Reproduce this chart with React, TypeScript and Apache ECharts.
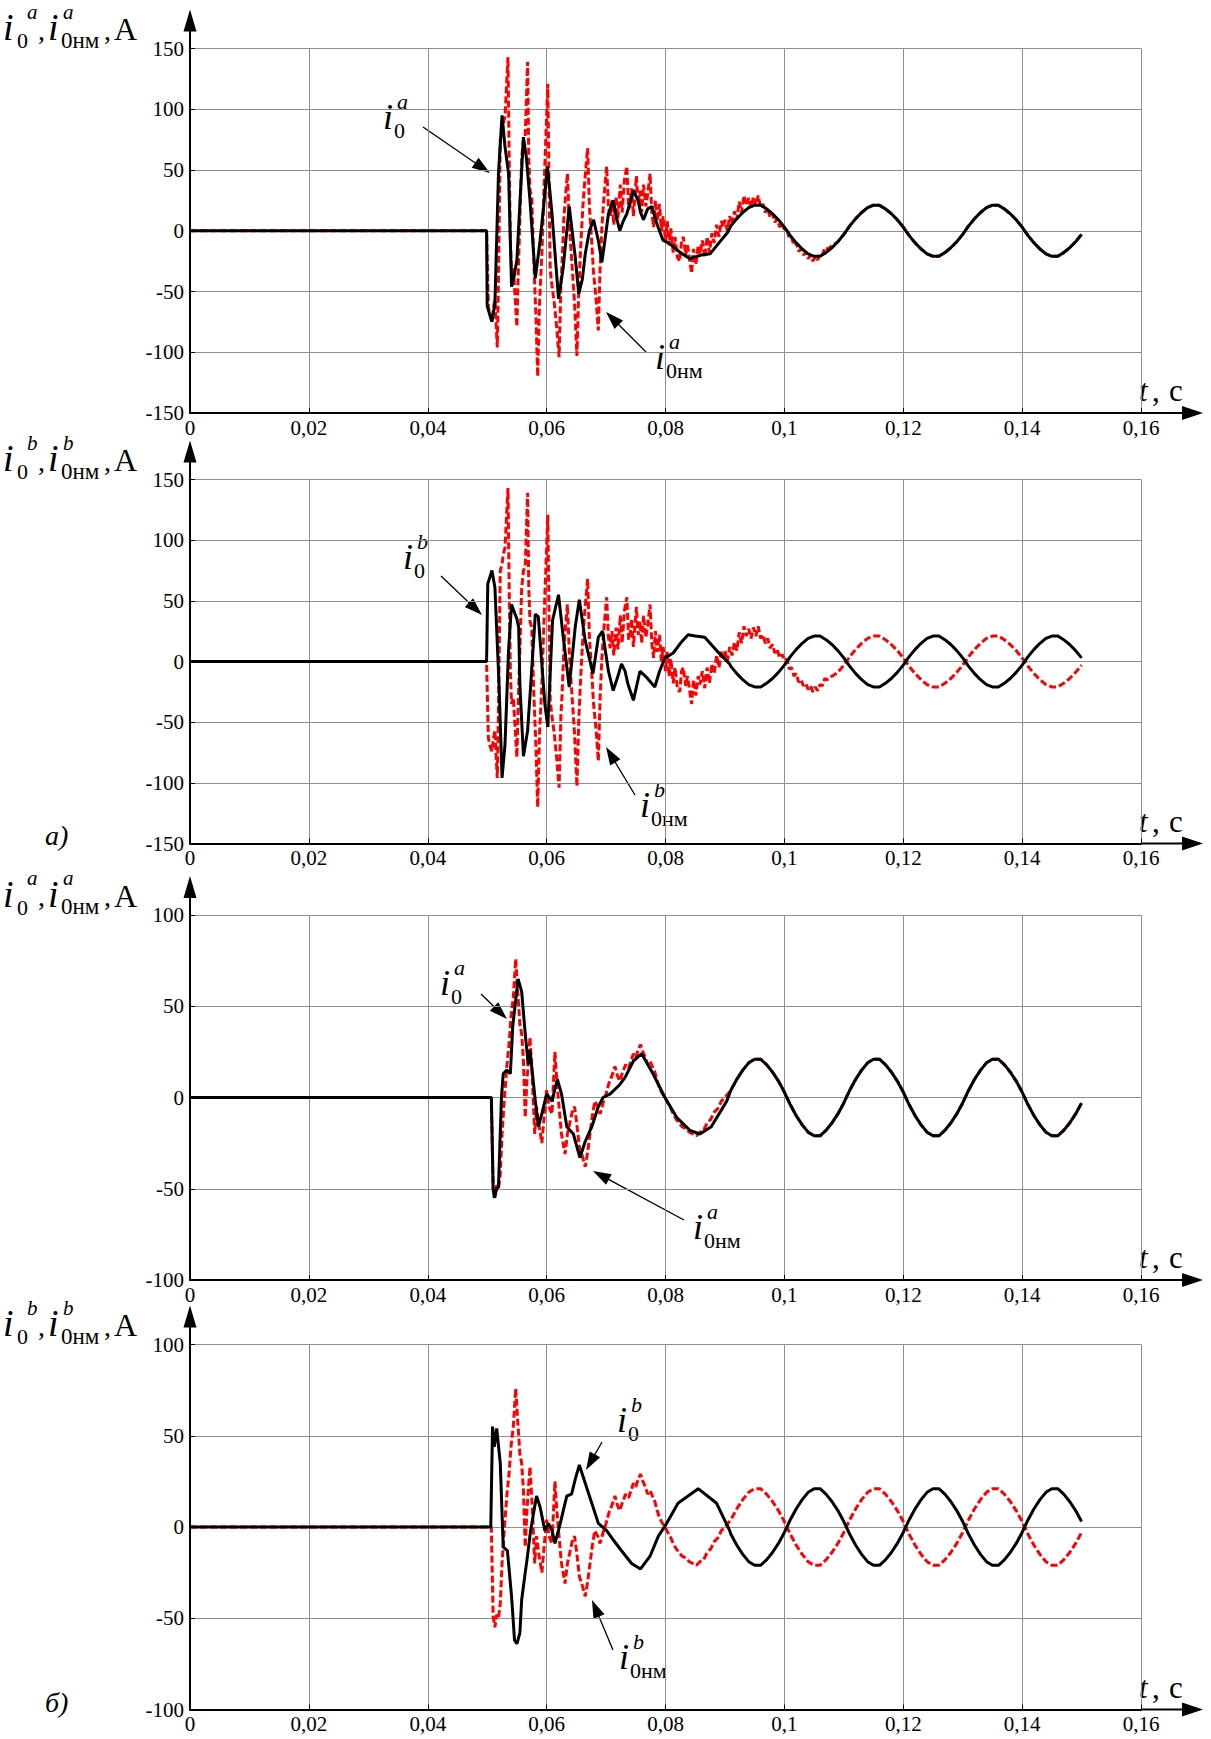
import React, { useEffect, useRef } from "react";
import * as echarts from "echarts";

// ---------------- data (time in s, current in A) ----------------
const T_MIN = 0;
const T_MAX = 0.16;
const T_STEP = 0.02;
const Y_RANGE_BIG = [-150, 150];
const Y_RANGE_SMALL = [-100, 100];
const Y_STEP = 50;

// steady-state part (read at 1 ms steps)
const steadyT = [
  0.080, 0.081, 0.082, 0.083, 0.084, 0.085, 0.086, 0.087, 0.088, 0.089,
  0.090, 0.091, 0.092, 0.093, 0.094, 0.095, 0.096, 0.097, 0.098, 0.099,
  0.100, 0.101, 0.102, 0.103, 0.104, 0.105, 0.106, 0.107, 0.108, 0.109,
  0.110, 0.111, 0.112, 0.113, 0.114, 0.115, 0.116, 0.117, 0.118, 0.119,
  0.120, 0.121, 0.122, 0.123, 0.124, 0.125, 0.126, 0.127, 0.128, 0.129,
  0.130, 0.131, 0.132, 0.133, 0.134, 0.135, 0.136, 0.137, 0.138, 0.139,
  0.140, 0.141, 0.142, 0.143, 0.144, 0.145, 0.146, 0.147, 0.148, 0.149,
  0.150,
];
const steadyA = [
  3, -4, -10, -15, -19, -21, -21, -18, -14, -9,
  -3, 4, 10, 15, 19, 21, 21, 18, 14, 9,
  3, -4, -10, -15, -19, -21, -21, -18, -14, -9,
  -3, 4, 10, 15, 19, 21, 21, 18, 14, 9,
  3, -4, -10, -15, -19, -21, -21, -18, -14, -9,
  -3, 4, 10, 15, 19, 21, 21, 18, 14, 9,
  3, -4, -10, -15, -19, -21, -21, -18, -14, -9,
  -3,
];
const steadyB = [
  -3, 4, 10, 15, 19, 21, 21, 18, 14, 9,
  3, -4, -10, -15, -19, -21, -21, -18, -14, -9,
  -3, 4, 10, 15, 19, 21, 21, 18, 14, 9,
  3, -4, -10, -15, -19, -21, -21, -18, -14, -9,
  -3, 4, 10, 15, 19, 21, 21, 18, 14, 9,
  3, -4, -10, -15, -19, -21, -21, -18, -14, -9,
  -3, 4, 10, 15, 19, 21, 21, 18, 14, 9,
  3,
];

// panel 1 (a): i0^a
const black1: [number, number][] = [
  [0, 0], [0.0499, 0], [0.05, -62], [0.0508, -75], [0.0513, -60], [0.0519, 47], [0.0525, 95],
  [0.053, 69], [0.0536, 47], [0.0541, -46], [0.0545, -38], [0.055, -24], [0.0555, 22], [0.0561, 77],
  [0.0566, 60], [0.0572, 25], [0.0581, -39], [0.0586, -20], [0.0589, -8], [0.0595, 20], [0.0601, 53],
  [0.0605, 35], [0.0609, 14], [0.062, -56], [0.0628, -30], [0.0638, 20], [0.0648, -21], [0.0654, -52],
  [0.066, -40], [0.0665, -19], [0.0672, 0], [0.0679, 9], [0.0687, -8], [0.0693, -26], [0.0698, -8],
  [0.0704, 14], [0.0712, 25], [0.0718, 10], [0.0723, 0], [0.0729, 8], [0.0735, 14], [0.0746, 33],
  [0.0754, 25], [0.0758, 15], [0.0763, 9], [0.077, 18], [0.0777, 20], [0.0786, 5], [0.0796, -8],
  [0.0805, -10], [0.0813, -13], [0.0825, -18], [0.0841, -23], [0.086, -20], [0.0875, -19],
  [0.089, -10], [0.0905, -1],
];
// panel 2 (a): i0^b
const black2: [number, number][] = [
  [0, 0], [0.0499, 0], [0.0501, 64], [0.0508, 75], [0.0513, 61], [0.052, -20], [0.0525, -96],
  [0.053, -68], [0.0536, 10], [0.0541, 47], [0.055, 35], [0.0553, 28], [0.0555, -19], [0.0561, -78],
  [0.0568, -57], [0.0573, -21], [0.0581, 39], [0.0586, 37], [0.0597, -35], [0.0602, -54], [0.061, 34],
  [0.062, 55], [0.0628, 20], [0.0638, -21], [0.0648, 28], [0.0655, 51], [0.0665, 17], [0.0678, -10],
  [0.0687, 20], [0.0694, 25], [0.0704, -8], [0.0712, -24], [0.072, -12], [0.0726, -2], [0.0732, -8],
  [0.0737, -19], [0.0746, -32], [0.0757, -8], [0.0768, -13], [0.0782, -21], [0.079, -8], [0.0799, 3],
  [0.0813, 7], [0.0825, 15], [0.0838, 22], [0.085, 21], [0.0866, 20], [0.0886, 9], [0.0908, -2],
];
// panels 1 & 2 (a): i0нм
const red12: [number, number][] = [
  [0, 0], [0.0499, 0], [0.0502, -63], [0.0505, -70], [0.0508, -74], [0.0511, -62], [0.0513, -57],
  [0.0517, -96], [0.0519, -40], [0.0522, 75], [0.0525, 80], [0.0527, 88], [0.053, 94], [0.0535, 143],
  [0.0537, 60], [0.0539, -8], [0.0541, -35], [0.0544, -30], [0.055, -79], [0.0552, -40], [0.0555, 10],
  [0.0558, 60], [0.0561, 75], [0.0564, 78], [0.0568, 139], [0.057, 60], [0.0572, 33], [0.0575, 28],
  [0.0578, -20], [0.0582, -70], [0.0585, -120], [0.0588, -60], [0.0592, -19], [0.0596, 40],
  [0.0602, 121], [0.0604, 40], [0.0606, -32], [0.0609, -45], [0.0613, -60], [0.0617, -80],
  [0.0621, -104], [0.0624, -45], [0.0626, -27], [0.0629, 10], [0.0632, 30], [0.0635, 47], [0.0638, 10],
  [0.064, -8], [0.0643, -30], [0.0647, -60], [0.0651, -103], [0.0654, -50], [0.0657, -16], [0.0661, 20],
  [0.0664, 40], [0.0669, 68], [0.0672, 20], [0.0676, -10], [0.0679, -35], [0.0683, -55], [0.0687, -82],
  [0.069, -30], [0.0693, 3], [0.0696, 25], [0.0701, 53], [0.0704, 20], [0.0707, 11], [0.071, 25],
  [0.0713, 5], [0.0717, 28], [0.072, 10], [0.0724, 38], [0.0727, 15], [0.0731, 42], [0.0735, 53],
  [0.0738, 18], [0.074, 20], [0.0743, 35], [0.0746, 12], [0.0751, 45], [0.0754, 22], [0.0757, 33],
  [0.076, 15], [0.0763, 38], [0.0767, 20], [0.077, 30], [0.0774, 47], [0.0777, 15], [0.078, 3],
  [0.0783, 25], [0.0786, 8], [0.079, 22], [0.0793, 0], [0.0796, 12], [0.08, -8], [0.0803, 8],
  [0.0806, -12], [0.0809, 2], [0.0813, -18], [0.0816, -5], [0.082, -22], [0.0824, -25], [0.0827, -8],
  [0.083, -5], [0.0834, -20], [0.0837, -12], [0.0844, -35], [0.0847, -15], [0.0851, -28], [0.0855, -12],
  [0.0858, -19], [0.0862, -8], [0.0866, -22], [0.087, -5], [0.0874, -18], [0.0878, -2], [0.0882, -10],
  [0.0886, 5], [0.089, -5], [0.0894, 8], [0.0897, 3], [0.09, 9], [0.0904, 0], [0.0908, 12],
  [0.0912, 5], [0.0916, 16], [0.092, 9], [0.0924, 24], [0.0928, 15], [0.0932, 29], [0.0936, 21],
  [0.094, 27], [0.0944, 19], [0.0948, 28], [0.0952, 21], [0.0956, 29], [0.096, 19], [0.0964, 22],
  [0.0968, 15], [0.0972, 19], [0.0976, 11], [0.098, 14], [0.0984, 7], [0.0988, 10], [0.0992, 3],
  [0.0996, 6], [0.1, 1], [0.1004, 2], [0.1008, -6], [0.1012, -5], [0.1016, -12], [0.102, -10],
  [0.1024, -17], [0.1028, -15], [0.1032, -20], [0.1036, -18], [0.104, -23], [0.1044, -20],
  [0.1048, -25], [0.1052, -21], [0.1056, -24], [0.106, -19], [0.1064, -20], [0.1068, -14],
  [0.1072, -15], [0.1076, -14], [0.108, -12], [0.1084, -11],
];
// panel 3 (б): i0^a
const black3: [number, number][] = [
  [0, 0], [0.0507, 0], [0.051, -50], [0.0512, -55], [0.0516, -50], [0.0519, -49], [0.0524, 0],
  [0.0527, 13], [0.0533, 15], [0.0539, 13], [0.0543, 39], [0.0552, 65], [0.0558, 58], [0.0564, 35],
  [0.0569, 18], [0.0572, 26], [0.0581, -2], [0.0586, -16], [0.0592, -9], [0.06, 2], [0.0609, -2],
  [0.0618, 10], [0.0625, 2], [0.0634, -16], [0.0645, -20], [0.0656, -33], [0.0665, -24],
  [0.0676, -16], [0.0687, -5], [0.0695, 0], [0.0707, 2], [0.0723, 7], [0.0732, 11], [0.0746, 20],
  [0.076, 24], [0.0779, 13], [0.0799, 0], [0.0819, -11], [0.0841, -18], [0.0858, -20], [0.0877, -16],
  [0.0903, -2],
];
// panel 4 (б): i0^b
const black4: [number, number][] = [
  [0, 0], [0.0506, 0], [0.0509, 55], [0.0512, 44], [0.0516, 54], [0.0522, 35], [0.0527, -11],
  [0.0534, -13], [0.0541, -38], [0.0546, -62], [0.055, -64], [0.0555, -58], [0.0558, -40],
  [0.0564, -25], [0.0567, -18], [0.0573, -2], [0.0583, 17], [0.0589, 11], [0.0597, -2], [0.0603, 2],
  [0.0609, -2], [0.0614, -9], [0.0623, 2], [0.0628, 9], [0.0634, 17], [0.0642, 18], [0.0648, 26],
  [0.0655, 34], [0.0665, 24], [0.0676, 13], [0.0687, 2], [0.0701, -2], [0.0712, -7], [0.0726, -13],
  [0.0743, -20], [0.0758, -23], [0.0774, -16], [0.0788, -5], [0.0802, 2], [0.0821, 13], [0.0855, 21],
  [0.0886, 13], [0.0908, -2],
];
// panels 3 & 4 (б): i0нм
const red34: [number, number][] = [
  [0, 0], [0.0507, 0], [0.051, -49], [0.0513, -55], [0.0516, -48], [0.0519, -50], [0.0522, -42],
  [0.0525, -20], [0.0528, -5], [0.0533, 17], [0.0537, 30], [0.054, 44], [0.0544, 55], [0.0548, 76],
  [0.0551, 60], [0.0555, 40], [0.0558, 35], [0.0561, 20], [0.0564, -11], [0.0567, 10], [0.0572, 33],
  [0.0576, 10], [0.058, -20], [0.0583, -5], [0.0587, -15], [0.0592, -25], [0.0596, -10], [0.06, 4],
  [0.0604, -5], [0.0609, -9], [0.0614, 25], [0.0617, 10], [0.062, -2], [0.0625, -20], [0.0631, -31],
  [0.0635, -20], [0.0639, -14], [0.0643, -8], [0.0647, -5], [0.0651, -15], [0.0655, -27], [0.066, -32],
  [0.0665, -38], [0.0669, -30], [0.0673, -20], [0.0677, -10], [0.0681, -2], [0.0686, -5], [0.069, -9],
  [0.0695, -3], [0.07, 2], [0.0705, 8], [0.071, 12], [0.0715, 17], [0.0719, 12], [0.0723, 9],
  [0.0728, 14], [0.0733, 18], [0.0738, 16], [0.0742, 20], [0.0746, 24], [0.075, 22], [0.0754, 26],
  [0.0758, 29], [0.0762, 25], [0.0766, 22], [0.077, 18], [0.0774, 20], [0.0778, 17], [0.0782, 14],
  [0.0786, 9], [0.079, 5], [0.0795, 2], [0.0799, 0], [0.0804, -3], [0.0809, -6], [0.0813, -9],
  [0.0818, -12], [0.0823, -14], [0.0828, -16], [0.0834, -17], [0.084, -19], [0.0846, -20],
  [0.0852, -21], [0.0858, -19], [0.0864, -18], [0.087, -14], [0.0876, -12], [0.0882, -8],
  [0.0888, -6], [0.0894, -2], [0.09, 0], [0.0905, 2],
];

function withSteady(trans: [number, number][], vals: number[]) {
  const last = trans[trans.length - 1][0];
  const out = trans.slice();
  steadyT.forEach((t, i) => {
    if (t > last + 1e-9) out.push([t, vals[i]]);
  });
  return out;
}

// ---------------- layout ----------------
const GRID_LEFT = 190;
const GRID_RIGHT_X = 1141;
const PANELS = [
  { top: 48.5, height: 364.5, range: Y_RANGE_BIG, sup: "a", black: withSteady(black1, steadyA), red: withSteady(red12, steadyA) },
  { top: 479.5, height: 364, range: Y_RANGE_BIG, sup: "b", black: withSteady(black2, steadyB), red: withSteady(red12, steadyA) },
  { top: 915, height: 365, range: Y_RANGE_SMALL, sup: "a", black: withSteady(black3, steadyA), red: withSteady(red34, steadyA) },
  { top: 1344.5, height: 365, range: Y_RANGE_SMALL, sup: "b", black: withSteady(black4, steadyB), red: withSteady(red34, steadyA) },
];

const FONT = "'Liberation Serif', 'Times New Roman', serif";

function txt(x: number, base: number, text: string, size: number, italic = false) {
  return {
    type: "text",
    x,
    y: base - 0.34 * size,
    silent: true,
    style: {
      text,
      fill: "#000",
      fontSize: size,
      fontFamily: FONT,
      fontStyle: italic ? "italic" : "normal",
      align: "left",
      verticalAlign: "middle",
    },
  };
}

function arrow(x1: number, y1: number, x2: number, y2: number, len = 18, hw = 6, lw = 1.3) {
  const dx = x2 - x1, dy = y2 - y1;
  const L = Math.hypot(dx, dy);
  const ux = dx / L, uy = dy / L;
  const bx = x2 - ux * len, by = y2 - uy * len;
  return [
    { type: "line", silent: true, shape: { x1, y1, x2: bx + ux * 2, y2: by + uy * 2 }, style: { stroke: "#000", lineWidth: lw } },
    {
      type: "polygon",
      silent: true,
      shape: { points: [[x2, y2], [bx - uy * hw, by + ux * hw], [bx + uy * hw, by - ux * hw]] },
      style: { fill: "#000" },
    },
  ];
}

// annotation label: i with super- and subscript
function ann(x: number, b: number, sup: string, sub: string) {
  return [txt(x, b, "i", 36, true), txt(x + 14, b - 20, sup, 22, true), txt(x + 11, b + 9, sub, 22)];
}

function title(b: number, sup: string) {
  return [
    txt(3, b, "i", 38, true),
    txt(27, b - 21, sup, 21, true),
    txt(17, b + 8, "0", 22),
    txt(38, b, ",", 28),
    txt(48, b, "i", 38, true),
    txt(63, b - 21, sup, 21, true),
    txt(61, b + 8, "0нм", 23),
    txt(104, b, ",", 28),
    txt(114, b, "A", 32),
  ];
}

const ANNOTATIONS = [
  { x: 383, b: 129, sup: "a", sub: "0", arrow: [423, 127, 490, 173] },
  { x: 655, b: 369, sup: "a", sub: "0нм", arrow: [646, 352, 606, 312] },
  { x: 403, b: 569, sup: "b", sub: "0", arrow: [441, 576, 482, 615] },
  { x: 640, b: 817, sup: "b", sub: "0нм", arrow: [635, 795, 606, 747] },
  { x: 440, b: 995, sup: "a", sub: "0", arrow: [481, 994, 507, 1019] },
  { x: 693, b: 1239, sup: "a", sub: "0нм", arrow: [684, 1220, 593, 1171] },
  { x: 617, b: 1432, sup: "b", sub: "0", arrow: [602, 1442, 586, 1470] },
  { x: 619, b: 1669, sup: "b", sub: "0нм", arrow: [613, 1650, 592, 1600] },
];

function fmtX(v: number) {
  const s = String(Number(v.toFixed(2)));
  return s.replace(".", ",");
}

function buildOption() {
  const grid: any[] = [];
  const xAxis: any[] = [];
  const yAxis: any[] = [];
  const series: any[] = [];
  const graphic: any[] = [];

  PANELS.forEach((p, i) => {
    grid.push({ left: GRID_LEFT, width: GRID_RIGHT_X - GRID_LEFT, top: p.top, height: p.height });
    xAxis.push({
      type: "value",
      gridIndex: i,
      min: T_MIN,
      max: T_MAX,
      interval: T_STEP,
      axisLine: { onZero: false, lineStyle: { color: "#000", width: 2 } },
      axisTick: { inside: true, length: 5, lineStyle: { color: "#000", width: 1 } },
      axisLabel: { formatter: fmtX, color: "#000", fontFamily: FONT, fontSize: 21, margin: 4 },
      splitLine: { show: true, lineStyle: { color: "#8f8f8f", width: 1 } },
    });
    yAxis.push({
      type: "value",
      gridIndex: i,
      min: p.range[0],
      max: p.range[1],
      interval: Y_STEP,
      axisLine: { onZero: false, lineStyle: { color: "#000", width: 2 } },
      axisTick: { inside: true, length: 5, lineStyle: { color: "#000", width: 1 } },
      axisLabel: { color: "#000", fontFamily: FONT, fontSize: 21, margin: 6 },
      splitLine: { show: true, lineStyle: { color: "#8f8f8f", width: 1 } },
    });
    series.push({
      type: "line",
      xAxisIndex: i,
      yAxisIndex: i,
      data: p.red,
      showSymbol: false,
      symbol: "none",
      lineStyle: { color: "#ff0000", width: 3, type: [7, 3] },
      z: 2,
    });
    series.push({
      type: "line",
      xAxisIndex: i,
      yAxisIndex: i,
      data: p.black,
      showSymbol: false,
      symbol: "none",
      lineStyle: { color: "#000", width: 3 },
      z: 3,
    });

    const bottom = p.top + p.height;
    // axis arrows
    graphic.push({ type: "line", silent: true, shape: { x1: GRID_LEFT, y1: p.top, x2: GRID_LEFT, y2: p.top - 22 }, style: { stroke: "#000", lineWidth: 2 } });
    graphic.push({
      type: "polygon",
      silent: true,
      shape: { points: [[GRID_LEFT, p.top - 39], [GRID_LEFT - 6.5, p.top - 17], [GRID_LEFT + 6.5, p.top - 17]] },
      style: { fill: "#000" },
    });
    graphic.push({ type: "line", silent: true, shape: { x1: GRID_RIGHT_X, y1: bottom, x2: 1184, y2: bottom }, style: { stroke: "#000", lineWidth: 2 } });
    graphic.push({
      type: "polygon",
      silent: true,
      shape: { points: [[1203, bottom], [1182, bottom - 7], [1182, bottom + 7]] },
      style: { fill: "#000" },
    });
    // titles
    graphic.push(...title(p.top - 8.5, p.sup));
    graphic.push(txt(1139, bottom - 11.5, "t", 31, true));
    graphic.push(txt(1152, bottom - 11.5, ",", 31));
    graphic.push(txt(1169, bottom - 11.5, "c", 31));
  });

  ANNOTATIONS.forEach((a) => {
    graphic.push(...ann(a.x, a.b, a.sup, a.sub));
    graphic.push(...arrow(a.arrow[0], a.arrow[1], a.arrow[2], a.arrow[3]));
  });

  graphic.push(txt(45, 845, "a)", 28, true));
  graphic.push(txt(45, 1712, "б)", 28, true));

  return {
    animation: false,
    backgroundColor: "#fff",
    grid,
    xAxis,
    yAxis,
    series,
    graphic,
  };
}

export default function App() {
  const ref = useRef<HTMLDivElement>(null);
  useEffect(() => {
    if (!ref.current) return;
    const chart = echarts.init(ref.current, undefined, { renderer: "svg" });
    chart.setOption(buildOption() as any);
    return () => chart.dispose();
  }, []);
  return (
    <div
      ref={ref}
      style={{ position: "absolute", left: 0, top: 0, width: 1211, height: 1739, background: "#fff" }}
    />
  );
}
